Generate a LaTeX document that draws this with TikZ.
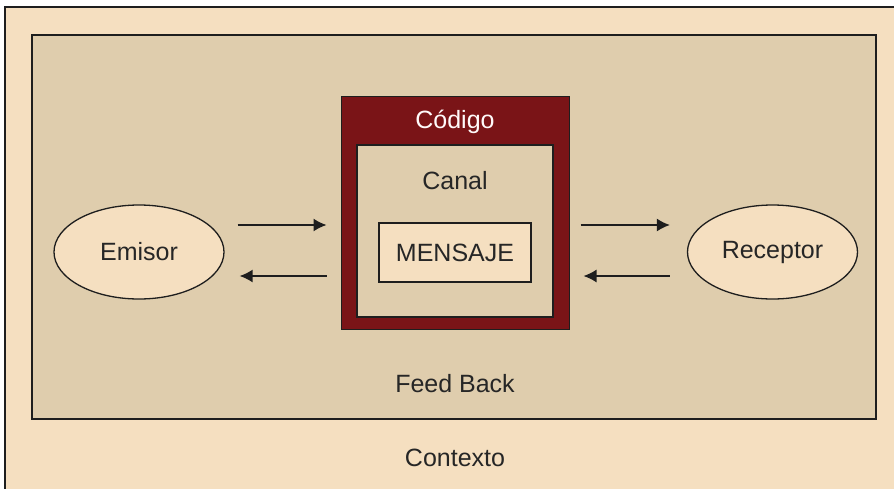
\documentclass[tikz,border=0pt]{standalone}
\usepackage{fontspec}
\setmainfont{Liberation Sans}
\usetikzlibrary{shapes.geometric,arrows.meta}
\definecolor{ctxfill}{HTML}{F5DFC0}
\definecolor{inner}{HTML}{DFCDAD}
\definecolor{codred}{HTML}{7A1417}
\definecolor{edge}{HTML}{1E1E1E}
\tikzset{
  lbl/.style={font=\fontsize{25}{30}\selectfont, text=black!85, inner sep=0},
  ell/.style={ellipse, draw=edge, line width=1.3pt, fill=ctxfill, minimum width=170pt, minimum height=94pt, inner sep=0, font=\fontsize{25}{30}\selectfont, text=black!85},
  arr/.style={-{Latex[length=13pt,width=13pt]}, line width=1.5pt, draw=edge},
}
\begin{document}
\begin{tikzpicture}[x=1pt,y=-1pt]
\useasboundingbox (0,0) rectangle (894,488);
\clip (0,0) rectangle (894,488);
\fill[white] (0,0) rectangle (894,488);
\draw[edge, line width=2pt, fill=ctxfill] (5,7) rectangle (905,500);
\draw[edge, line width=2pt, fill=inner] (32,35) rectangle (876,419);
\node[draw=edge, line width=1pt, fill=codred, minimum width=228pt, minimum height=233pt, inner sep=0] (codigo) at (455,212.5) {};
\node[draw=edge, line width=2pt, fill=inner, minimum width=196pt, minimum height=172pt, inner sep=0] (canal) at (455,231) {};
\node[draw=edge, line width=1.5pt, fill=ctxfill, minimum width=152pt, minimum height=59pt, inner sep=0, font=\fontsize{25}{30}\selectfont, text=black!85] (mensaje) at (455,252.5) {MENSAJE};
\node[lbl, text=white!92!pink] (codtxt) at (455,122) {Código};
\node[lbl] (canaltxt) at (455,181) {Canal};
\node[ell] (emisor) at (139,252) {Emisor};
\node[ell] (receptor) at (772.5,252) {Receptor};
\node[lbl] (feed) at (455,384) {Feed Back};
\node[lbl] (ctx) at (455,458) {Contexto};
\draw[arr, shorten <=13pt, shorten >=14pt] (emisor.east |- 0,225) -- (codigo.west |- 0,225);
\draw[arr, shorten <=14pt, shorten >=15pt] (codigo.west |- 0,276) -- (emisor.east |- 0,276);
\draw[arr, shorten <=11pt, shorten >=17pt] (codigo.east |- 0,225) -- (receptor.west |- 0,225);
\draw[arr, shorten <=17pt, shorten >=14pt] (receptor.west |- 0,276) -- (codigo.east |- 0,276);
\end{tikzpicture}
\end{document}
